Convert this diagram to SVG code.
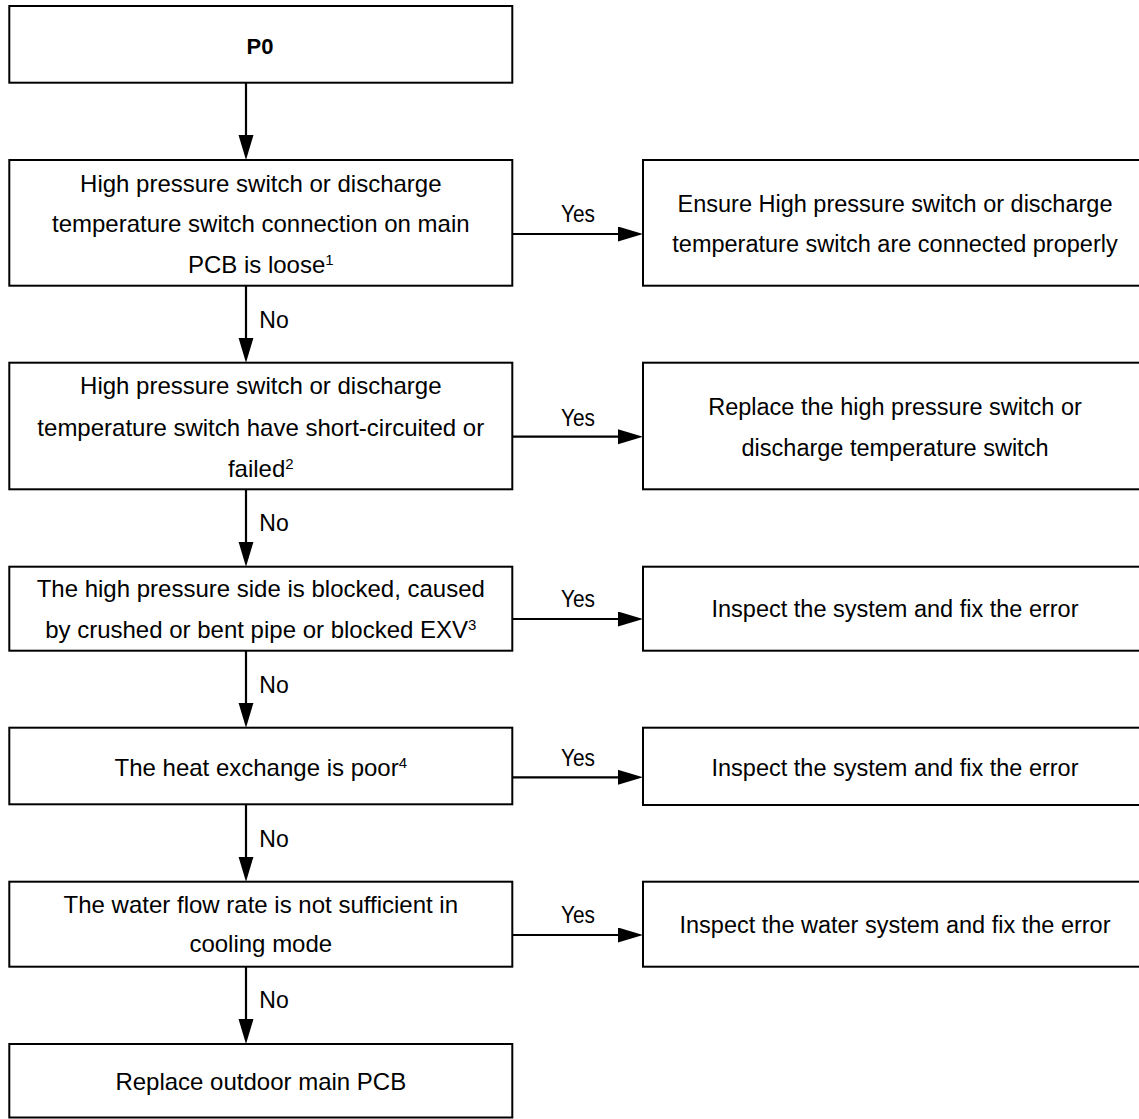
<svg xmlns="http://www.w3.org/2000/svg" width="1139" height="1119" viewBox="0 0 1139 1119">
<style>
.box{fill:#fff;stroke:#000;stroke-width:2}
.t{font-family:"Liberation Sans",Arial,sans-serif;font-size:24px;fill:#000;text-anchor:middle}
.r{font-family:"Liberation Sans",Arial,sans-serif;font-size:23.5px;fill:#000;text-anchor:middle}
.lbl{font-family:"Liberation Sans",Arial,sans-serif;font-size:23px;fill:#000}
.sup{font-size:15px}
.c{stroke:#000;stroke-width:2.2;fill:none;marker-end:url(#ah)}
</style>
<defs>
<marker id="ah" markerUnits="userSpaceOnUse" markerWidth="26" markerHeight="16" refX="15" refY="7.5" orient="auto" viewBox="0 0 26 16">
<path d="M0,0 L25,7.5 L0,15 Z" fill="#000"/>
</marker>
</defs>
<rect width="1139" height="1119" fill="#fff"/>
<g id="connectors">
<line class="c" x1="246" y1="83" x2="246" y2="150"/>
<line class="c" x1="246" y1="286" x2="246" y2="352.7"/>
<line class="c" x1="246" y1="489.3" x2="246" y2="556.7"/>
<line class="c" x1="246" y1="650.7" x2="246" y2="717.7"/>
<line class="c" x1="246" y1="804.3" x2="246" y2="871.7"/>
<line class="c" x1="246" y1="966.7" x2="246" y2="1034"/>
<line class="c" x1="512.3" y1="234" x2="633" y2="234"/>
<line class="c" x1="512.3" y1="436.7" x2="633" y2="436.7"/>
<line class="c" x1="512.3" y1="619" x2="633" y2="619"/>
<line class="c" x1="512.3" y1="777.3" x2="633" y2="777.3"/>
<line class="c" x1="512.3" y1="935" x2="633" y2="935"/>
<text class="lbl" x="259.3" y="328">No</text>
<text class="lbl" x="259.3" y="530.7">No</text>
<text class="lbl" x="259.3" y="692.7">No</text>
<text class="lbl" x="259.3" y="846.7">No</text>
<text class="lbl" x="259.3" y="1008">No</text>
<text class="lbl" x="561" y="221.7" textLength="34" lengthAdjust="spacingAndGlyphs">Yes</text>
<text class="lbl" x="561" y="426" textLength="34" lengthAdjust="spacingAndGlyphs">Yes</text>
<text class="lbl" x="561" y="607.3" textLength="34" lengthAdjust="spacingAndGlyphs">Yes</text>
<text class="lbl" x="561" y="766" textLength="34" lengthAdjust="spacingAndGlyphs">Yes</text>
<text class="lbl" x="561" y="922.7" textLength="34" lengthAdjust="spacingAndGlyphs">Yes</text>
</g>
<g id="p0">
<rect class="box" x="9.3" y="6" width="503" height="76.7"/>
<text class="t" x="260" y="54" style="font-weight:bold;font-size:22px">P0</text>
</g>
<g id="q1">
<rect class="box" x="9.3" y="160" width="503" height="125.7"/>
<text class="t" x="260.8" y="192">High pressure switch or discharge</text>
<text class="t" x="260.8" y="232">temperature switch connection on main</text>
<text class="t" x="260.8" y="273">PCB is loose<tspan class="sup" dy="-8">1</tspan></text>
</g>
<g id="a1">
<rect class="box" x="643" y="160" width="510" height="125.7"/>
<text class="r" x="895" y="211.7">Ensure High pressure switch or discharge</text>
<text class="r" x="895" y="251.7">temperature switch are connected properly</text>
</g>
<g id="q2">
<rect class="box" x="9.3" y="362.7" width="503" height="126.6"/>
<text class="t" x="260.8" y="394">High pressure switch or discharge</text>
<text class="t" x="260.8" y="436">temperature switch have short-circuited or</text>
<text class="t" x="260.8" y="476.7">failed<tspan class="sup" dy="-8">2</tspan></text>
</g>
<g id="a2">
<rect class="box" x="643" y="362.7" width="510" height="126.6"/>
<text class="r" x="895" y="415">Replace the high pressure switch or</text>
<text class="r" x="895" y="456">discharge temperature switch</text>
</g>
<g id="q3">
<rect class="box" x="9.3" y="566.7" width="503" height="84"/>
<text class="t" x="260.8" y="596.7">The high pressure side is blocked, caused</text>
<text class="t" x="260.8" y="638">by crushed or bent pipe or blocked EXV<tspan class="sup" dy="-8">3</tspan></text>
</g>
<g id="a3">
<rect class="box" x="643" y="566.7" width="510" height="84"/>
<text class="r" x="895" y="617.3">Inspect the system and fix the error</text>
</g>
<g id="q4">
<rect class="box" x="9.3" y="727.7" width="503" height="76.6"/>
<text class="t" x="260.8" y="776">The heat exchange is poor<tspan class="sup" dy="-8">4</tspan></text>
</g>
<g id="a4">
<rect class="box" x="643" y="727.7" width="510" height="77.3"/>
<text class="r" x="895" y="776">Inspect the system and fix the error</text>
</g>
<g id="q5">
<rect class="box" x="9.3" y="881.7" width="503" height="85"/>
<text class="t" x="260.8" y="913.3">The water flow rate is not sufficient in</text>
<text class="t" x="260.8" y="952">cooling mode</text>
</g>
<g id="a5">
<rect class="box" x="643" y="881.7" width="510" height="85"/>
<text class="r" x="895" y="932.7">Inspect the water system and fix the error</text>
</g>
<g id="end">
<rect class="box" x="9.3" y="1044" width="503" height="73.5"/>
<text class="t" x="260.8" y="1090">Replace outdoor main PCB</text>
</g>
</svg>
